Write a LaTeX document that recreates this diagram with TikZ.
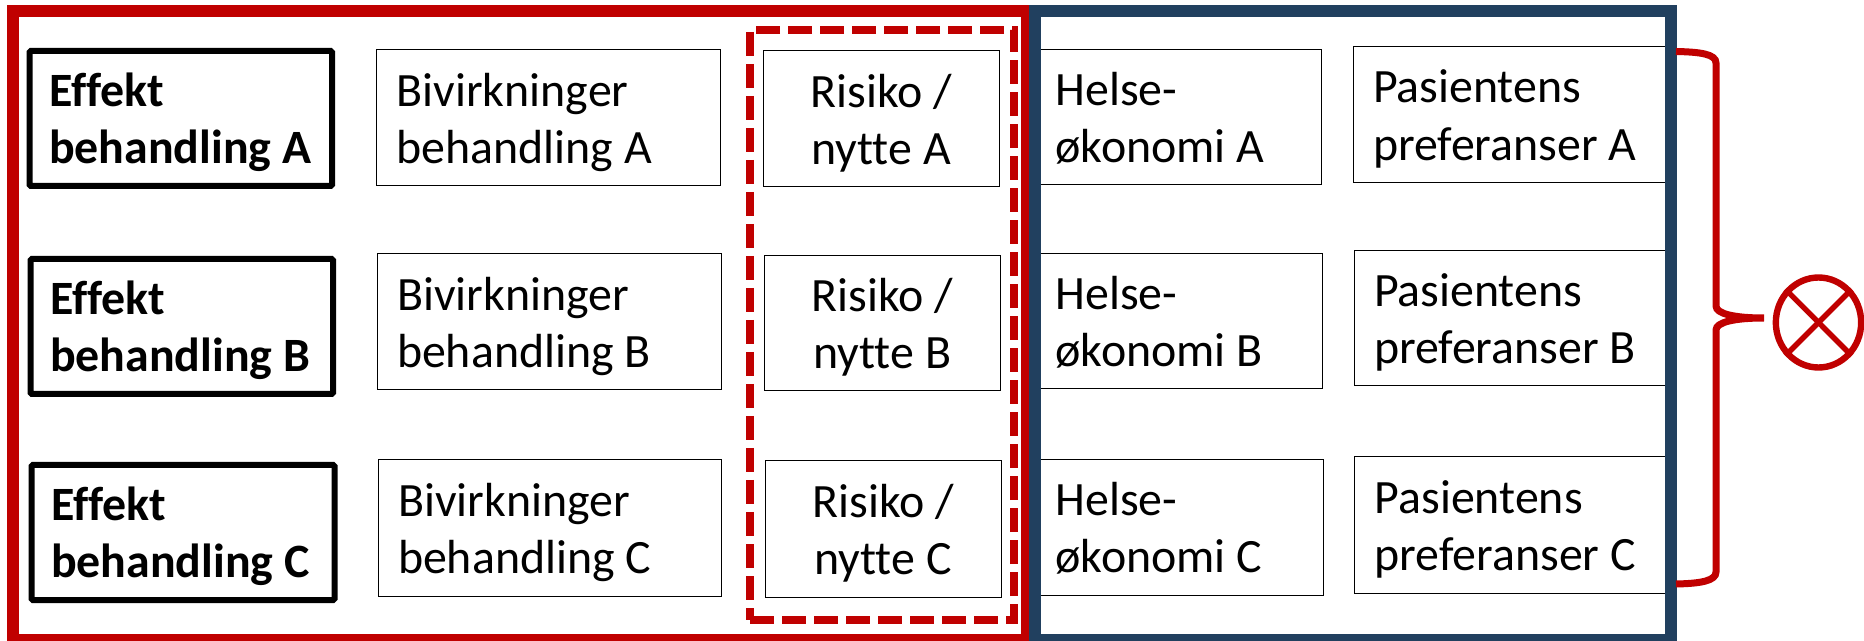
\documentclass[tikz,border=0pt]{standalone}
\usepackage{fontspec}
\setmainfont{Carlito}[Ligatures=NoCommon]
\usetikzlibrary{shapes.geometric,calc}
\definecolor{framered}{HTML}{C00000}
\definecolor{frameblue}{HTML}{21405F}
\newcommand{\twolines}[2]{\spaceskip=0.23em\relax\mbox{\rule[-8.9pt]{0pt}{43pt}#1}\\\mbox{\rule[-8.9pt]{0pt}{43pt}#2}}
% \cell{style}{name}{x1}{y1}{x2}{y2}{pad}{line 1}{line 2}
\newcommand{\cell}[9]{%
  \pgfmathsetmacro{\cw}{#5-#3}\pgfmathsetmacro{\ch}{#6-#4}%
  \pgfmathsetmacro{\cx}{(#3+#5)/2}\pgfmathsetmacro{\cy}{(#4+#6)/2}%
  \pgfmathsetmacro{\tw}{0.75*(\cw-2*#7)}\pgfmathsetmacro{\ip}{0.75*#7}%
  \node[#1,text width=\tw pt,inner xsep=\ip pt,minimum height=0.75*\ch pt] (#2) at (\cx,\cy) {\twolines{#8}{#9}};}
\tikzset{
  x=0.75pt,y=-0.75pt,
  every node/.style={font=\fontsize{35.9pt}{43pt}\selectfont,inner ysep=0pt},
  cellbox/.style={draw=black,line width=0.75pt,align=left,fill=white},
  midbox/.style={cellbox,align=center},
  boldbox/.style={draw=black,line width=4.5pt,align=left,fill=white,rounded corners=1pt,font=\fontsize{35.9pt}{43pt}\selectfont\bfseries},
  framebox/.style={draw,line width=9pt,minimum width=0,inner sep=0pt,rectangle},
  dashbox/.style={draw=framered,line width=5.5pt,dash pattern=on 18pt off 6pt,inner sep=0pt},
  bracket/.style={draw=framered,line width=5.25pt},
  opmark/.style={draw=framered,line width=4.8pt,ellipse,inner sep=0pt},
  opcross/.style={draw=framered,line width=4pt},
}
\begin{document}
\begin{tikzpicture}
\useasboundingbox (0,0) rectangle (1864,641);
\fill[white] (0,0) rectangle (1864,641);
% row A
\cell{boldbox}{effA}{29.5}{51}{332}{186}{19.5}{Effekt}{behandling A}
\cell{cellbox}{bivA}{376.6}{50}{720}{186}{20}{Bivirkninger}{behandling A}
\cell{midbox}{risA}{763}{51}{999}{187}{10}{Risiko\hspace{0.22em}/}{nytte A}
\cell{cellbox}{helA}{1035}{49.5}{1321.6}{185}{20.5}{Helse-}{økonomi A}
\cell{cellbox}{pasA}{1353}{47}{1668}{182.3}{20}{Pasientens}{preferanser A}
% row B
\cell{boldbox}{effB}{30.5}{259}{333}{394}{19.5}{Effekt}{behandling B}
\cell{cellbox}{bivB}{377}{254}{721}{390}{20}{Bivirkninger}{behandling B}
\cell{midbox}{risB}{764.5}{256}{1000}{391}{10}{Risiko\hspace{0.22em}/}{nytte B}
\cell{cellbox}{helB}{1035}{254}{1322.5}{389}{20.5}{Helse-}{økonomi B}
\cell{cellbox}{pasB}{1354}{251}{1668}{386}{20}{Pasientens}{preferanser B}
% row C
\cell{boldbox}{effC}{31.5}{465}{334.5}{600}{19.5}{Effekt}{behandling C}
\cell{cellbox}{bivC}{378}{460}{721.5}{596.7}{20}{Bivirkninger}{behandling C}
\cell{midbox}{risC}{765}{461}{1001}{597}{10}{Risiko\hspace{0.22em}/}{nytte C}
\cell{cellbox}{helC}{1035}{460}{1323.4}{595}{20.5}{Helse-}{økonomi C}
\cell{cellbox}{pasC}{1354.7}{457}{1668}{593}{20}{Pasientens}{preferanser C}
% frames
\node[dashbox,minimum width=198pt,minimum height=442.5pt] (riskframe) at (882,325) {};
\node[framebox,draw=framered,minimum width=760.5pt,minimum height=471.75pt] (redframe) at (520,325.5) {};
\node[framebox,draw=frameblue,minimum width=476.6pt,minimum height=471.75pt] (blueframe) at (1352.75,325.5) {};
% operator
\node[opmark,minimum width=64pt,minimum height=67.5pt] (op) at (1818.5,322.5) {};
\draw[opcross] (op.45) -- (op.225);
\draw[opcross] (op.135) -- (op.315);
% brace
\coordinate (bracetop) at (1676,51.5);
\coordinate (bracebot) at (1676,584);
\coordinate (bracetip) at (1764,318);
\draw[bracket] (bracetop) .. controls (1700,52) and (1716,54) .. (1716,63) -- (1716,306)
  .. controls (1716,314) and (1735,318) .. (bracetip)
  .. controls (1735,318) and (1716,322) .. (1716,330) -- (1716,572)
  .. controls (1716,581) and (1700,583.5) .. (bracebot);
\end{tikzpicture}
\end{document}
